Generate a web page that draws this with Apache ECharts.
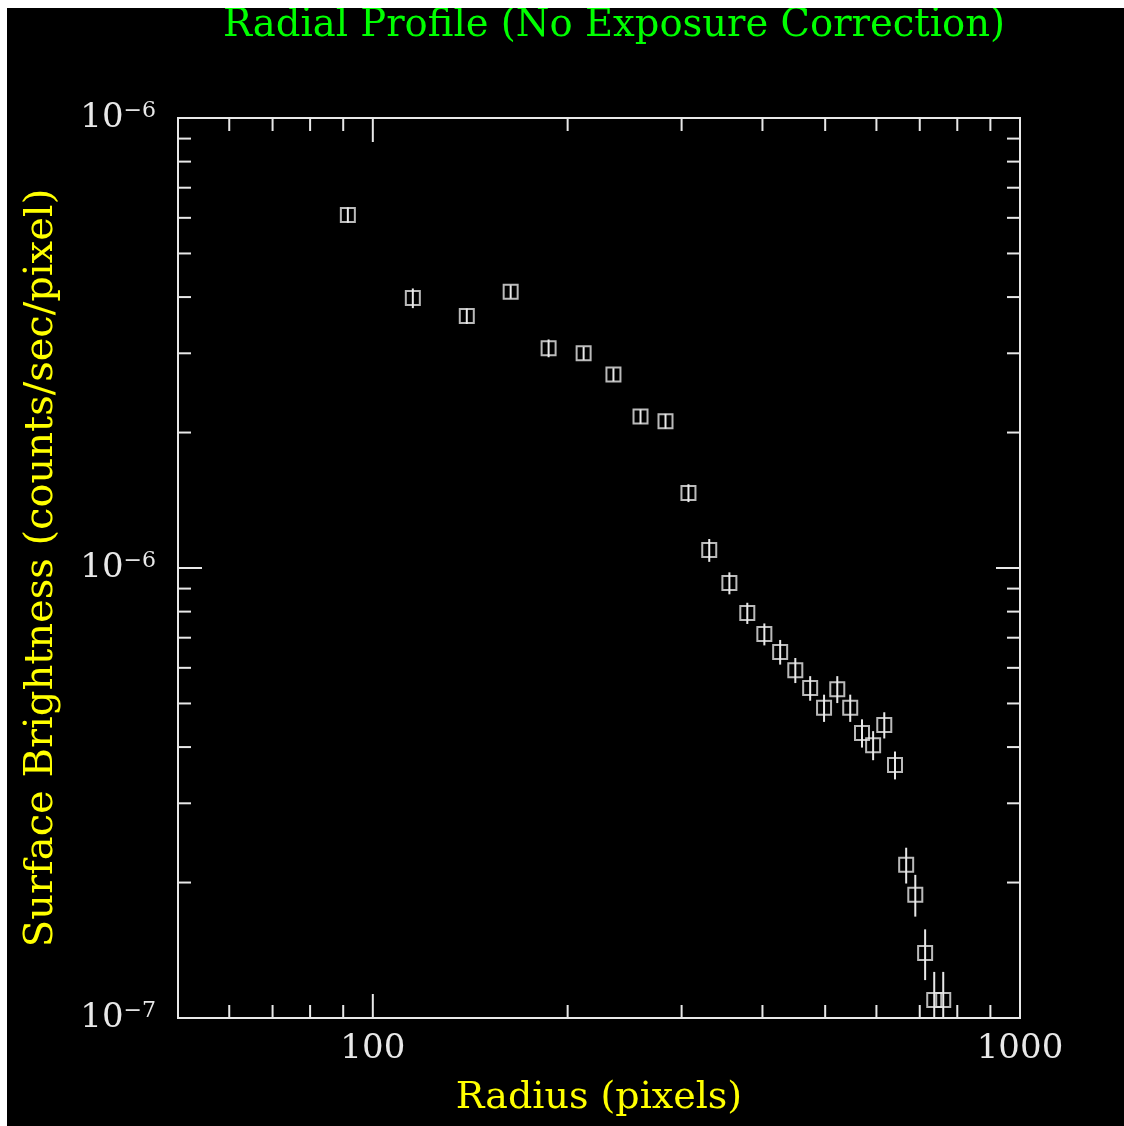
<!DOCTYPE html>
<html>
<head>
<meta charset="utf-8">
<script src="https://cdn.jsdelivr.net/npm/echarts@6/dist/echarts.min.js"></script>
<style>
html,body{margin:0;padding:0;background:#fff;}
#chart{position:absolute;left:7px;top:8px;width:1117px;height:1118px;background:#000;}
</style>
</head>
<body>
<div id="chart"></div>
<script>
// radial profile (brightness in units of 1e-6)
var radius=[91.5,115.3,139.7,163.3,186.9,211.7,235.4,259.2,283.3,307.4,331,355.6,379,402.7,426,449.6,474,498,522,546.6,570,593,617,641,667,689,713.5,737,761];
var bright=[6.09,3.98,3.63,4.11,3.08,3.00,2.69,2.17,2.12,1.468,1.096,0.926,0.794,0.713,0.651,0.593,0.541,0.489,0.538,0.489,0.430,0.404,0.448,0.365,0.219,0.188,0.1394,0.1096,0.1096];
var errs=[0.24,0.2,0.145,0.14,0.14,0.10,0.09,0.08,0.08,0.067,0.064,0.052,0.043,0.040,0.041,0.038,0.034,0.034,0.037,0.034,0.031,0.030,0.030,0.026,0.02,0.02,0.018,0.017,0.017];

var xMin=50,xMax=1000;
var yMin=1e-7,yMax=1e-5;
var xMajor=[100,1000];
var xMinor=[60,70,80,90,200,300,400,500,600,700,800,900];
var yMajor=[1e-7,1e-6,1e-5];
var yMinor=[2e-7,3e-7,4e-7,5e-7,6e-7,7e-7,8e-7,9e-7,2e-6,3e-6,4e-6,5e-6,6e-6,7e-6,8e-6,9e-6];
var xLabels={2:'100',3:'1000'};
var yLabels={'-7':'−7','-6':'−6','-5':'−6'};

var FG='#e8e8e8';
var FONT='DejaVu Serif';

var pts=[],bars=[];
for(var i=0;i<radius.length;i++){
  var v=bright[i]*1e-6,e=errs[i]*1e-6;
  pts.push([radius[i],v]);
  bars.push([radius[i],Math.max(v-e,yMin),Math.min(v+e,yMax)]);
}

var xt=[],yt=[];
xMajor.forEach(function(v){xt.push([v,24]);});
xMinor.forEach(function(v){xt.push([v,13]);});
yMajor.forEach(function(v){yt.push([v,24]);});
yMinor.forEach(function(v){yt.push([v,13]);});

var lineStyle={stroke:FG,lineWidth:2};

var chart=echarts.init(document.getElementById('chart'));
chart.setOption({
  backgroundColor:'#000',
  animation:false,
  title:{
    text:'Radial Profile (No Exposure Correction)',
    left:211,top:-7,
    textStyle:{color:'#00ff00',fontFamily:FONT,fontWeight:'normal',fontSize:38.5}
  },
  grid:{left:171,top:110,right:104,bottom:108,show:true,borderColor:FG,borderWidth:2,backgroundColor:'transparent'},
  xAxis:{
    type:'log',logBase:10,min:xMin,max:xMax,
    name:'Radius (pixels)',nameLocation:'middle',nameGap:61,
    nameTextStyle:{color:'#ffff00',fontFamily:FONT,fontSize:38},
    axisLine:{show:false},axisTick:{show:false},splitLine:{show:false},
    axisLabel:{
      color:FG,fontFamily:FONT,fontSize:34,margin:14,
      showMinLabel:true,showMaxLabel:true,
      formatter:function(v){var k=Math.round(Math.log10(v));return Math.abs(Math.log10(v)-k)<1e-6&&xLabels[k]?xLabels[k]:'';}
    }
  },
  yAxis:{
    type:'log',logBase:10,min:yMin,max:yMax,
    name:'Surface Brightness (counts/sec/pixel)',nameLocation:'middle',nameGap:116,nameRotate:90,
    nameTextStyle:{color:'#ffff00',fontFamily:FONT,fontSize:40},
    axisLine:{show:false},axisTick:{show:false},splitLine:{show:false},
    axisLabel:{
      color:FG,fontFamily:FONT,margin:22,
      formatter:function(v){var k=Math.round(Math.log10(v));return '{b|10}{s|'+(yLabels[k]||'')+'}';},
      rich:{
        b:{color:FG,fontFamily:FONT,fontSize:34},
        s:{color:FG,fontFamily:FONT,fontSize:22,padding:[0,0,14,0]}
      }
    }
  },
  series:[
    {
      type:'custom',name:'xticks',data:xt,silent:true,z:1,
      renderItem:function(params,api){
        var v=api.value(0),L=api.value(1);
        var b=api.coord([v,yMin]),t=api.coord([v,yMax]);
        return {type:'group',children:[
          {type:'line',shape:{x1:b[0],y1:b[1],x2:b[0],y2:b[1]-L},style:lineStyle},
          {type:'line',shape:{x1:t[0],y1:t[1],x2:t[0],y2:t[1]+L},style:lineStyle}
        ]};
      }
    },
    {
      type:'custom',name:'yticks',data:yt,silent:true,z:1,
      renderItem:function(params,api){
        var v=api.value(0),L=api.value(1);
        var l=api.coord([xMin,v]),r=api.coord([xMax,v]);
        return {type:'group',children:[
          {type:'line',shape:{x1:l[0],y1:l[1],x2:l[0]+L,y2:l[1]},style:lineStyle},
          {type:'line',shape:{x1:r[0],y1:r[1],x2:r[0]-L,y2:r[1]},style:lineStyle}
        ]};
      }
    },
    {
      type:'custom',name:'errors',data:bars,silent:true,z:2,
      renderItem:function(params,api){
        var lo=api.coord([api.value(0),api.value(1)]);
        var hi=api.coord([api.value(0),api.value(2)]);
        return {type:'line',shape:{x1:lo[0],y1:lo[1],x2:hi[0],y2:hi[1]},style:lineStyle};
      }
    },
    {
      type:'scatter',name:'profile',data:pts,z:3,
      symbol:'rect',symbolSize:14,
      itemStyle:{color:'rgba(0,0,0,0)',borderColor:FG,borderWidth:2}
    }
  ]
});
</script>
</body>
</html>
